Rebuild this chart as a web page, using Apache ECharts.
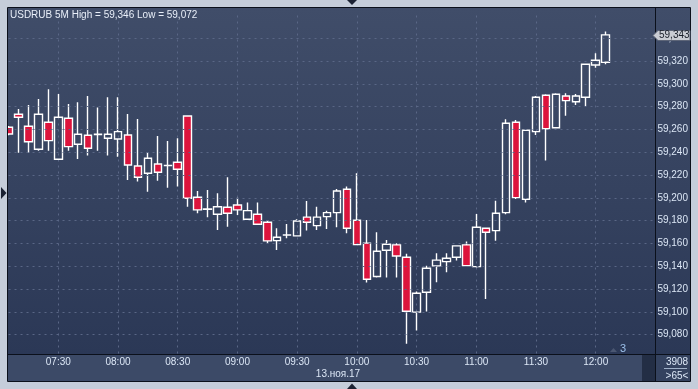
<!DOCTYPE html>
<html><head><meta charset="utf-8">
<script src="https://cdn.jsdelivr.net/npm/echarts@6/dist/echarts.min.js"></script>
<style>html,body{margin:0;padding:0;background:#c5cdda}#c{width:698px;height:389px}</style>
</head><body><div id="c"></div>
<script>
const symbolName = 'USDRUB';
const timeframe = '5M';
const dateLabel = '13.ноя.17';
const times = ['07:05','07:10','07:15','07:20','07:25','07:30','07:35','07:40','07:45','07:50','07:55',
'08:00','08:05','08:10','08:15','08:20','08:25','08:30','08:35','08:40','08:45','08:50','08:55',
'09:00','09:05','09:10','09:15','09:20','09:25','09:30','09:35','09:40','09:45','09:50','09:55',
'10:00','10:05','10:10','10:15','10:20','10:25','10:30','10:35','10:40','10:45','10:50','10:55',
'11:00','11:05','11:10','11:15','11:20','11:25','11:30','11:35','11:40','11:45','11:50','11:55',
'12:00','12:05','12:10','12:15','12:20','12:25','12:30'];
const opens = [59.262,59.2734,59.2628,59.2427,59.2663,59.2339,59.2699,59.2471,59.255,59.2555,59.2523,59.2517,59.2552,59.228,59.2216,59.2298,59.2283,59.2313,59.2719,59.2006,59.1901,59.1857,59.1918,59.1938,59.1813,59.1857,59.1787,59.1625,59.1674,59.1667,59.1831,59.1757,59.1836,59.1871,59.2076,59.1804,59.1603,59.131,59.1541,59.1588,59.148,59.0998,59.1173,59.1404,59.1441,59.148,59.1588,59.1397,59.1734,59.1713,59.1871,59.2663,59.1988,59.2581,59.29,59.2616,59.2894,59.2844,59.2883,59.3166,59.319];
const closes = [59.256,59.2707,59.2493,59.2734,59.2502,59.2707,59.245,59.2558,59.2436,59.2558,59.2558,59.2581,59.2289,59.2181,59.2348,59.2225,59.2285,59.2251,59.1997,59.1895,59.1903,59.1923,59.1866,59.1895,59.1888,59.1769,59.1623,59.1655,59.1676,59.1798,59.1787,59.1831,59.1871,59.2061,59.1734,59.159,59.1287,59.1532,59.1594,59.1491,59.1006,59.1164,59.1383,59.1454,59.1471,59.1579,59.1406,59.1743,59.1699,59.1866,59.2655,59.2002,59.2593,59.2883,59.2607,59.2909,59.2853,59.2894,59.3172,59.3207,59.343];
const lows = [59.255,59.2397,59.2397,59.2414,59.2414,59.2335,59.2414,59.2342,59.2371,59.2414,59.2371,59.2362,59.2158,59.2143,59.2055,59.2151,59.209,59.2099,59.1923,59.1866,59.183,59.1719,59.1748,59.1851,59.181,59.1763,59.1603,59.1544,59.1646,59.1665,59.1713,59.1719,59.1728,59.1743,59.169,59.1585,59.1257,59.1301,59.1301,59.1301,59.072,59.0836,59.1003,59.1261,59.1348,59.145,59.1406,59.139,59.1114,59.1625,59.1857,59.1991,59.1959,59.2552,59.2327,59.2615,59.2721,59.2815,59.2806,59.3142,59.3172];
const highs = [59.263,59.278,59.2815,59.2868,59.2953,59.2912,59.2824,59.2839,59.2894,59.2792,59.2883,59.2883,59.2736,59.2692,59.24,59.2543,59.25,59.2523,59.2725,59.2061,59.207,59.2041,59.2181,59.2002,59.1959,59.1959,59.1807,59.1734,59.1772,59.1813,59.1973,59.1923,59.1888,59.2079,59.2099,59.2216,59.1807,59.1699,59.1631,59.1603,59.1509,59.1178,59.1404,59.1515,59.1515,59.1579,59.1617,59.1859,59.174,59.1976,59.269,59.2684,59.2595,59.2894,59.291,59.2918,59.2918,59.2912,59.3172,59.3268,59.346];
const yMin = 59.06, yMax = 59.36, yStep = 0.02;
const volumeLabel = '3908';
const zoomLabel = '>65<';
const pageLabel = '3';

const FONT = "'Liberation Sans',Arial,sans-serif";
const FS = 10;
const fmt = v => v.toFixed(3).replace('.', ',');
const nCandles = closes.length;
const candleData = opens.map((o, i) => [o, closes[i], lows[i], highs[i]]);
const hi = Math.max(...highs), lo = Math.min(...lows);
const isMajor = (i, v) => i < nCandles && (v.endsWith(':00') || v.endsWith(':30'));
const LABEL_COLOR = '#dbe6f5';
const GRID_LINE = {color: '#5a6786', type: [2, 4], width: 1};

const chart = echarts.init(document.getElementById('c'), null, {renderer: 'canvas'});
const mkGrad = () => new echarts.graphic.LinearGradient(0, 0, 0, 1, [{offset: 0, color: '#404d69'}, {offset: 1, color: '#2b3856'}]);

const option = {
  animation: false,
  grid: [
    {left: 8.54, right: 42.6, top: 15.5, bottom: 31.5, containLabel: false},
    {left: 8.54, right: 42.6, top: 355, height: 1, containLabel: false}
  ],
  xAxis: [{
    type: 'category', data: times, boundaryGap: false, gridIndex: 0,
    axisLine: {show: false}, axisTick: {show: false}, axisLabel: {show: false},
    splitLine: {show: true, interval: isMajor, lineStyle: GRID_LINE}
  }, {
    type: 'category', data: times, boundaryGap: false, gridIndex: 1, z: 120,
    axisLine: {show: false}, axisTick: {show: false}, splitLine: {show: false},
    axisLabel: {interval: isMajor, color: LABEL_COLOR, fontSize: FS, fontFamily: FONT, margin: 1.5, hideOverlap: false}
  }],
  yAxis: [{
    type: 'value', position: 'right', min: yMin, max: yMax, interval: yStep, gridIndex: 0, z: 110,
    axisLine: {show: false}, axisTick: {show: false},
    axisLabel: {color: LABEL_COLOR, fontSize: FS, fontFamily: FONT, margin: 2, formatter: v => fmt(v), showMinLabel: false, showMaxLabel: false},
    splitLine: {show: true, showMinLine: false, showMaxLine: false, lineStyle: GRID_LINE}
  }, {
    type: 'value', gridIndex: 1, show: false
  }],
  series: [{
    type: 'candlestick', data: candleData, barWidth: 8, clip: true, xAxisIndex: 0, yAxisIndex: 0,
    itemStyle: {color: 'rgba(0,0,0,0)', color0: '#dc143c', borderColor: '#ffffff', borderColor0: '#ffffff', borderWidth: 1.4}
  }],
  graphic: [
    {type: 'rect', id: 'plotbg', z: -90, shape: {x: 8, y: 8, width: 647, height: 346}, style: {fill: mkGrad()}, silent: true},
    {type: 'rect', id: 'rightbg', z: -90, shape: {x: 656, y: 8, width: 34, height: 346}, style: {fill: mkGrad()}, silent: true},
    {type: 'rect', id: 'leftstrip', z: 99, shape: {x: 0, y: 0, width: 8, height: 389}, style: {fill: '#c5cdda'}, silent: true},
    {type: 'rect', id: 'botpanel', z: 100, shape: {x: 8, y: 355, width: 634, height: 26}, style: {fill: '#3c4a67'}, silent: true},
    {type: 'rect', id: 'botdark', z: 100, shape: {x: 642, y: 355, width: 13, height: 26}, style: {fill: '#232e45'}, silent: true},
    {type: 'rect', id: 'brbox', z: 100, shape: {x: 656, y: 355, width: 34, height: 26}, style: {fill: '#34425f'}, silent: true},
    {type: 'line', id: 'vsep', z: 101, shape: {x1: 655.5, y1: 8, x2: 655.5, y2: 381}, style: {stroke: '#0b101b', lineWidth: 1}, silent: true},
    {type: 'line', id: 'hsep', z: 101, shape: {x1: 8, y1: 354.5, x2: 690, y2: 354.5}, style: {stroke: '#0b101b', lineWidth: 1}, silent: true},
    {type: 'rect', id: 'frame', z: 101, shape: {x: 7.5, y: 7.5, width: 683, height: 374}, style: {fill: null, stroke: '#0b101b', lineWidth: 1}, silent: true},
    {type: 'line', id: 'brsep', z: 102, shape: {x1: 664, y1: 368.5, x2: 687, y2: 368.5}, style: {stroke: '#9fb0c8', lineWidth: 1}, silent: true},
    {type: 'text', id: 'vol', z: 102, x: 677, y: 362, style: {text: volumeLabel, fill: LABEL_COLOR, font: FS + 'px ' + FONT, align: 'center', verticalAlign: 'middle'}, silent: true},
    {type: 'text', id: 'zoomt', z: 102, x: 677, y: 376, style: {text: zoomLabel, fill: LABEL_COLOR, font: FS + 'px ' + FONT, align: 'center', verticalAlign: 'middle'}, silent: true},
    {type: 'text', id: 'date', z: 102, x: 338, y: 374, style: {text: dateLabel, fill: LABEL_COLOR, font: FS + 'px ' + FONT, align: 'center', verticalAlign: 'middle'}, silent: true},
    {type: 'text', id: 'title', z: 102, x: 10, y: 15, style: {text: symbolName + ' ' + timeframe + ' High = ' + fmt(hi) + ' Low = ' + fmt(lo), fill: '#e8eef8', font: FS + 'px ' + FONT, verticalAlign: 'middle'}, silent: true},
    {type: 'text', id: 'page', z: 102, x: 620, y: 349, style: {text: pageLabel, fill: '#9cc0ea', font: '11px ' + FONT, verticalAlign: 'middle'}, silent: true},
    {type: 'polygon', id: 'pagetri', z: 102, shape: {points: [[610, 352], [617, 352], [613.5, 348]]}, style: {fill: '#4b5772'}, silent: true},
    {type: 'polygon', id: 'ltri', z: 102, shape: {points: [[1, 187], [6.5, 193], [1, 199]]}, style: {fill: '#1b2233'}, silent: true},
    {type: 'polygon', id: 'ttri', z: 102, shape: {points: [[347, 0], [357, 0], [352, 5]]}, style: {fill: '#1b2233'}, silent: true},
    {type: 'polygon', id: 'btri', z: 102, shape: {points: [[347, 389], [357, 389], [352, 383.5]]}, style: {fill: '#1b2233'}, silent: true}
  ]
};
chart.setOption(option);

const lastClose = closes[nCandles - 1];
const py = Math.round(chart.convertToPixel({yAxisIndex: 0}, lastClose)) + 0.5;
chart.setOption({graphic: [
  {type: 'polygon', id: 'pmark', z: 130, shape: {points: [[653, py], [658, py - 5], [690, py - 5], [690, py + 5], [658, py + 5]]}, style: {fill: '#c9ccd3', stroke: '#5d6578', lineWidth: 1}, silent: true},
  {type: 'text', id: 'ptext', z: 131, x: 659, y: py, style: {text: fmt(lastClose), fill: '#1a1f2a', font: FS + 'px ' + FONT, verticalAlign: 'middle'}, silent: true}
]});
</script></body></html>
